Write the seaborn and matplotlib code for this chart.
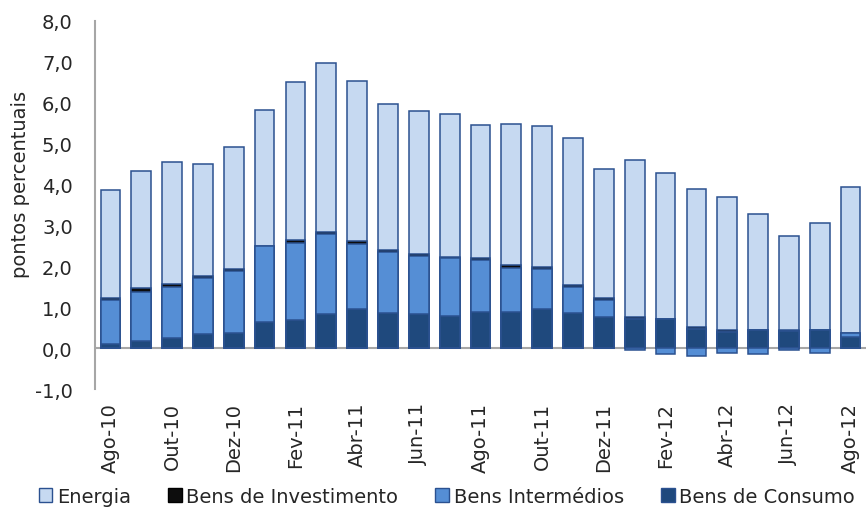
import numpy as np
import pandas as pd
import matplotlib
matplotlib.use("Agg")
import matplotlib.pyplot as plt
from matplotlib.patches import Patch
import seaborn as sns

months = ["Ago-10", "Set-10", "Out-10", "Nov-10", "Dez-10", "Jan-11", "Fev-11", "Mar-11",
          "Abr-11", "Mai-11", "Jun-11", "Jul-11", "Ago-11", "Set-11", "Out-11", "Nov-11",
          "Dez-11", "Jan-12", "Fev-12", "Mar-12", "Abr-12", "Mai-12", "Jun-12", "Jul-12", "Ago-12"]

consumo = [0.10, 0.17, 0.24, 0.34, 0.37, 0.65, 0.69, 0.83, 0.95, 0.86, 0.83, 0.78, 0.88,
           0.88, 0.97, 0.86, 0.77, 0.72, 0.71, 0.47, 0.40, 0.44, 0.41, 0.44, 0.27]
intermedios = [1.07, 1.21, 1.26, 1.37, 1.52, 1.85, 1.89, 1.96, 1.59, 1.50, 1.42, 1.42, 1.28,
               1.08, 0.96, 0.64, 0.42, -0.04, -0.15, -0.19, -0.12, -0.15, -0.05, -0.12, 0.10]
investimento = [0.06, 0.09, 0.06, 0.05, 0.05, 0.01, 0.06, 0.04, 0.08, 0.04, 0.05, 0.04, 0.04,
                0.07, 0.05, 0.04, 0.05, 0.04, 0.01, 0.04, 0.04, 0.01, 0.03, 0.01, 0.01]
energia = [2.63, 2.85, 2.99, 2.74, 2.97, 3.31, 3.86, 4.14, 3.91, 3.56, 3.49, 3.48, 3.26,
           3.45, 3.44, 3.59, 3.13, 3.85, 3.56, 3.39, 3.25, 2.83, 2.31, 2.62, 3.55]

series_names = ["Energia", "Bens de Investimento", "Bens Intermédios", "Bens de Consumo"]
colors = {"Energia": "#C6D9F1", "Bens de Investimento": "#0D0D0D",
          "Bens Intermédios": "#558ED5", "Bens de Consumo": "#1F497D"}
edge = "#2B5190"

sns.set_theme(style="white")
plt.rcParams["font.family"] = ["DejaVu Sans"]

df = pd.DataFrame({"mes": months, "cons": consumo, "inter": intermedios,
                   "inv": investimento, "ener": energia})
df["inter_pos"] = df["inter"].clip(lower=0)
df["inter_neg"] = df["inter"].clip(upper=0)
df["c1"] = df["cons"]
df["c2"] = df["c1"] + df["inter_pos"]
df["c3"] = df["c2"] + df["inv"]
df["c4"] = df["c3"] + df["ener"]

fig = plt.figure(figsize=(8.66, 5.10), dpi=100)
ax = fig.add_axes([0.1097, 0.235, 0.8903, 0.722])

W = 0.64
layers = [("c4", "Energia"), ("c3", "Bens de Investimento"),
          ("c2", "Bens Intermédios"), ("c1", "Bens de Consumo")]
for col, name in layers:
    sns.barplot(data=df, x="mes", y=col, order=months, color=colors[name],
                saturation=1, errorbar=None, width=W, edgecolor=edge,
                linewidth=1.1, ax=ax)
sns.barplot(data=df, x="mes", y="inter_neg", order=months, color=colors["Bens Intermédios"],
            saturation=1, errorbar=None, width=W, edgecolor=edge, linewidth=1.1, ax=ax)

ax.set_xlim(-0.5, len(months) - 0.5)
ax.set_ylim(-1.0, 8.0)
yt = np.arange(-1, 9, 1)
ax.set_yticks(yt)
ax.set_yticklabels([f"{v:.1f}".replace(".", ",") for v in yt], fontsize=14)
ax.set_xticks(range(0, len(months), 2))
ax.set_xticklabels(months[::2], rotation=90, fontsize=14)
ax.tick_params(axis="both", length=0)
ax.tick_params(axis="x", pad=9)
ax.tick_params(axis="y", pad=16)
ax.set_xlabel("")
ax.set_ylabel("pontos percentuais", fontsize=14)
ax.yaxis.set_label_coords(-0.084, 0.56)

for s in ["top", "right", "bottom"]:
    ax.spines[s].set_visible(False)
ax.spines["left"].set_color("#A6A6A6")
ax.spines["left"].set_linewidth(1.5)
ax.axhline(0, color="#A6A6A6", lw=1.5, zorder=0.5)

handles = [Patch(facecolor=colors[n], edgecolor=edge if n != "Bens de Investimento" else "#000000",
                 linewidth=1, label=n) for n in series_names]
fig.legend(handles=handles, loc="center", bbox_to_anchor=(0.516, 0.025), ncol=4,
           frameon=False, fontsize=14, handlelength=0.7, handleheight=0.7,
           handletextpad=0.25, columnspacing=1.9, borderpad=0)

fig.savefig("out.png", dpi=100)
